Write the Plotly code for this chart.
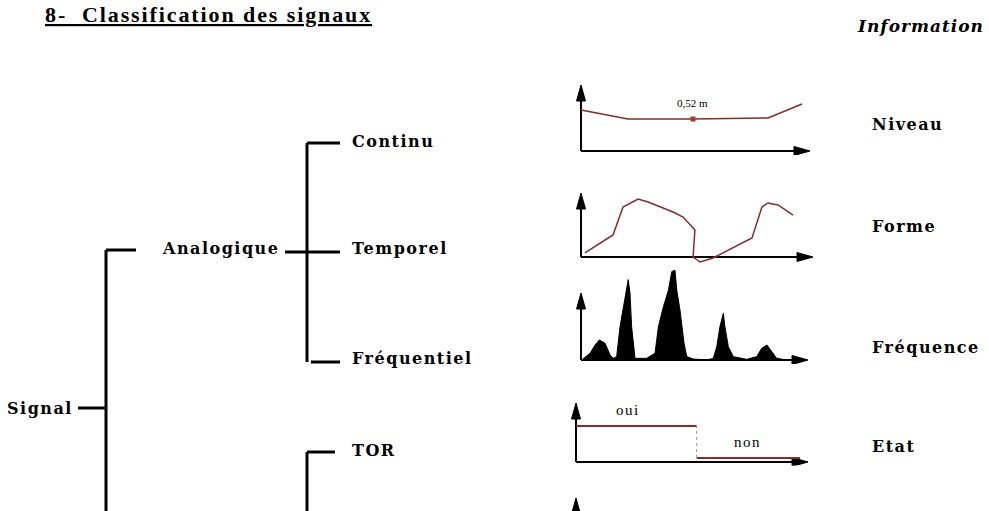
import plotly.graph_objects as go

W, H = 989, 511

# ---------------- data ----------------
title_text = "8-\u00a0 Classification des signaux"
info_title = "Information"

tree_labels = ["Signal", "Analogique", "Continu", "Temporel", "Fréquentiel", "TOR"]
info_labels = ["Niveau", "Forme", "Fréquence", "Etat"]

# Niveau (continuous level)
niveau_t = [0.0, 1.05, 2.05, 4.89, 8.17, 9.65]
niveau_v = [6.2, 5.45, 4.85, 4.85, 5.0, 7.12]
niveau_mark_t = [4.89]
niveau_mark_v = [4.85]
niveau_label = "0,52 m"

# Forme (temporal signal)
forme_t = [0.17, 1.38, 1.81, 2.46, 2.89, 3.97, 4.40, 4.91, 4.83, 5.13, 5.69,
           6.55, 7.37, 7.80, 8.06, 8.49, 9.14]
forme_v = [0.63, 3.44, 7.81, 9.06, 8.59, 7.03, 6.25, 4.22, 0.0, -0.78, -0.16,
           1.41, 2.97, 7.81, 8.44, 8.13, 6.56]

# Fréquence (spectrum)
freq_f = [0.03, 0.40, 0.62, 0.81, 1.06, 1.28, 1.42, 1.57, 1.72, 1.94, 2.08,
          2.16, 2.23, 2.38, 2.89, 3.26, 3.41, 3.63, 3.85, 4.00, 4.14, 4.22,
          4.36, 4.54, 4.66, 4.95, 5.54, 5.83, 5.98, 6.12, 6.27, 6.34, 6.49,
          6.71, 7.30, 7.74, 7.96, 8.19, 8.36, 8.62, 9.06]
freq_a = [0.0, 1.0, 2.24, 2.99, 2.49, 0.75, 0.25, 0.5, 4.97, 8.96, 12.0,
          9.95, 4.97, 0.25, 0.25, 1.0, 4.97, 7.96, 10.4, 13.2, 13.4, 10.4,
          7.46, 2.49, 0.5, 0.15, 0.0, 0.25, 1.99, 4.97, 6.97, 4.97, 1.99,
          0.5, 0.1, 0.5, 1.74, 2.24, 1.49, 0.25, 0.0]

# Etat (TOR)
etat_oui_t = [0.0, 5.2]
etat_oui_v = [6.1, 6.1]
etat_non_t = [5.2, 9.65]
etat_non_v = [0.68, 0.68]
etat_labels = ["oui", "non"]

# ---------------- layout config (positions / styles) ----------------
SLAB = "DejaVu Serif"
RED = "#8b2a2a"
XR = (-0.5, 10.5)

panels = {
    "niveau": dict(n=2, ox=581, oy=151, xtip=810, ytip=85, yr=(-0.6, 10.6)),
    "forme": dict(n=3, ox=581, oy=257, xtip=813, ytip=193, yr=(-1.6, 10.6)),
    "freq": dict(n=4, ox=581, oy=360, xtip=808, ytip=293, yr=(-0.6, 14.0)),
    "etat": dict(n=5, ox=576, oy=462, xtip=808, ytip=403, yr=(-0.6, 10.6)),
}

fig = go.Figure()
layout = dict(
    width=W, height=H, autosize=False,
    margin=dict(l=0, r=0, t=0, b=0),
    paper_bgcolor="white", plot_bgcolor="white",
    showlegend=False,
    xaxis=dict(domain=[0, 1], range=[0, W], visible=False, fixedrange=True),
    yaxis=dict(domain=[0, 1], range=[H, 0], visible=False, fixedrange=True),
)

HEAD_L, HEAD_HW = 16, 4.5

for key, p in panels.items():
    n = p["n"]
    sx = (p["xtip"] - p["ox"]) / 10.0
    sy = (p["oy"] - p["ytip"]) / 10.0
    x0 = p["ox"] + XR[0] * sx
    x1 = p["ox"] + XR[1] * sx
    yb = p["oy"] - p["yr"][0] * sy
    yt = p["oy"] - p["yr"][1] * sy
    layout[f"xaxis{n}"] = dict(domain=[x0 / W, x1 / W], range=list(XR), visible=False,
                               anchor=f"y{n}", fixedrange=True)
    layout[f"yaxis{n}"] = dict(domain=[1 - yb / H, 1 - yt / H], range=list(p["yr"]),
                               visible=False, anchor=f"x{n}", fixedrange=True)
    xa, ya = f"x{n}", f"y{n}"
    fig.add_trace(go.Scatter(x=[0, 0, None, 0, 10 - HEAD_L / sx * 0.5],
                             y=[10 - HEAD_L / sy * 0.5, 0, None, 0, 0],
                             mode="lines", line=dict(color="black", width=2),
                             xaxis=xa, yaxis=ya, hoverinfo="skip"))
    fig.add_trace(go.Scatter(x=[-HEAD_HW / sx, HEAD_HW / sx, 0, -HEAD_HW / sx],
                             y=[10 - HEAD_L / sy, 10 - HEAD_L / sy, 10, 10 - HEAD_L / sy],
                             mode="lines", fill="toself", fillcolor="black",
                             line=dict(color="black", width=1),
                             xaxis=xa, yaxis=ya, hoverinfo="skip"))
    fig.add_trace(go.Scatter(x=[10 - HEAD_L / sx, 10 - HEAD_L / sx, 10, 10 - HEAD_L / sx],
                             y=[-HEAD_HW / sy, HEAD_HW / sy, 0, -HEAD_HW / sy],
                             mode="lines", fill="toself", fillcolor="black",
                             line=dict(color="black", width=1),
                             xaxis=xa, yaxis=ya, hoverinfo="skip"))

# Niveau
fig.add_trace(go.Scatter(x=niveau_t, y=niveau_v, mode="lines",
                         line=dict(color=RED, width=1.5), xaxis="x2", yaxis="y2"))
fig.add_trace(go.Scatter(x=niveau_mark_t, y=niveau_mark_v, mode="markers",
                         marker=dict(color="#a83a2a", size=5, symbol="square"),
                         xaxis="x2", yaxis="y2"))
# Forme
fig.add_trace(go.Scatter(x=forme_t, y=forme_v, mode="lines",
                         line=dict(color=RED, width=1.5), xaxis="x3", yaxis="y3"))
# Fréquence
fig.add_trace(go.Scatter(x=freq_f, y=freq_a, mode="lines", fill="tozeroy",
                         fillcolor="black", line=dict(color="black", width=1),
                         xaxis="x4", yaxis="y4"))
# Etat
fig.add_trace(go.Scatter(x=etat_oui_t, y=etat_oui_v, mode="lines",
                         line=dict(color=RED, width=2), xaxis="x5", yaxis="y5"))
fig.add_trace(go.Scatter(x=etat_non_t, y=etat_non_v, mode="lines",
                         line=dict(color=RED, width=2), xaxis="x5", yaxis="y5"))
fig.add_trace(go.Scatter(x=[etat_oui_t[-1], etat_non_t[0]], y=[etat_non_v[0], etat_oui_v[-1]],
                         mode="lines", line=dict(color="#999999", width=1, dash="dot"),
                         xaxis="x5", yaxis="y5"))

# bottom partially visible arrow (next panel, cut off)
bx, btip = 576, 498
fig.add_trace(go.Scatter(x=[bx, bx], y=[btip + 8, H + 30], mode="lines",
                         line=dict(color="black", width=2), hoverinfo="skip"))
fig.add_trace(go.Scatter(x=[bx - HEAD_HW, bx + HEAD_HW, bx, bx - HEAD_HW],
                         y=[btip + HEAD_L, btip + HEAD_L, btip, btip + HEAD_L],
                         mode="lines", fill="toself", fillcolor="black",
                         line=dict(color="black", width=1), hoverinfo="skip"))

# ---------------- tree ----------------
segs = [
    (78, 408, 106, 408),
    (106, 250, 106, 540),
    (106, 250, 136, 250),
    (285, 252, 340, 252),
    (307, 143, 307, 362),
    (307, 143, 340, 143),
    (311, 362, 340, 362),
    (307, 452, 335, 452),
    (307, 452, 307, 540),
]
shapes = [dict(type="line", xref="x", yref="y", x0=a, y0=b, x1=c, y1=d,
               line=dict(color="black", width=3)) for a, b, c, d in segs]
layout["shapes"] = shapes

def sp(t, ls=1.5):
    return f'<span style="letter-spacing:{ls}px">{t}</span>'

tree_pos = [(75, 408, "right"), (160, 248, "left"), (350, 141, "left"),
            (350, 248, "left"), (350, 358, "left"), (350, 450, "left")]
info_pos = [(870, 124), (870, 226), (870, 347), (870, 446)]

ann = []
for lab, (x, y, xa) in zip(tree_labels, tree_pos):
    ann.append(dict(x=x, y=y, xref="x", yref="y", text=f"<b>{sp(lab)}</b>", showarrow=False,
                    xanchor=xa, yanchor="middle",
                    font=dict(family=SLAB, size=16, color="black")))
for lab, (x, y) in zip(info_labels, info_pos):
    ann.append(dict(x=x, y=y, xref="x", yref="y", text=f"<b>{sp(lab)}</b>", showarrow=False,
                    xanchor="left", yanchor="middle",
                    font=dict(family=SLAB, size=16, color="black")))

ann.append(dict(x=43, y=14.5, xref="x", yref="y", text=f"<b><u>{sp(title_text, 1.9)}</u></b>",
                showarrow=False, xanchor="left", yanchor="middle",
                font=dict(family="Liberation Serif", size=22, color="black")))
ann.append(dict(x=855, y=26, xref="x", yref="y", text=f"<b><i>{sp(info_title, 1)}</i></b>",
                showarrow=False, xanchor="left", yanchor="middle",
                font=dict(family=SLAB, size=17, color="black")))

# panel texts
ann.append(dict(x=niveau_mark_t[0], y=7.3, xref="x2", yref="y2", text=niveau_label,
                showarrow=False, xanchor="center", yanchor="middle",
                font=dict(family="Liberation Serif", size=11, color="black")))
ann.append(dict(x=2.24, y=8.8, xref="x5", yref="y5", text=sp(etat_labels[0], 1.5),
                showarrow=False, xanchor="center", yanchor="middle",
                font=dict(family="Liberation Serif", size=15, color="black")))
ann.append(dict(x=7.4, y=3.4, xref="x5", yref="y5", text=sp(etat_labels[1], 1.5),
                showarrow=False, xanchor="center", yanchor="middle",
                font=dict(family="Liberation Serif", size=15, color="black")))
layout["annotations"] = ann

fig.update_layout(**layout)
fig.write_html("out.html", config={"displayModeBar": False},
               post_script="document.body.style.margin='0';")
